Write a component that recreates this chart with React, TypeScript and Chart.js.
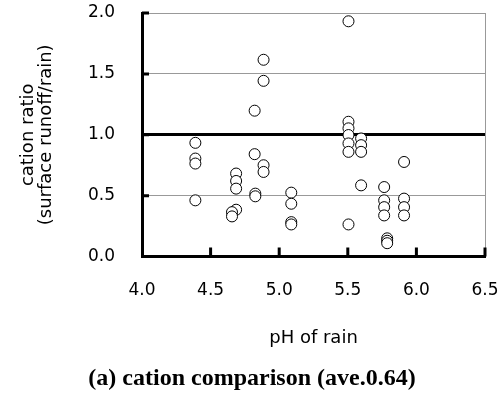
import React, { useEffect, useRef } from "react";
import { Chart, registerables } from "chart.js";

Chart.register(...registerables);

const phValues: number[] = [
  4.389, 4.389, 4.389, 4.389,
  4.686, 4.686, 4.686, 4.686, 4.656, 4.656,
  4.821, 4.821, 4.826, 4.826,
  4.886, 4.886, 4.886, 4.886,
  5.088, 5.088, 5.088, 5.088,
  5.505, 5.505, 5.505, 5.505, 5.505, 5.505, 5.505,
  5.597, 5.597, 5.597, 5.597,
  5.765, 5.765, 5.765, 5.765,
  5.787, 5.787, 5.787,
  5.91, 5.91, 5.91, 5.91,
];
const ratioValues: number[] = [
  0.934, 0.805, 0.764, 0.462,
  0.682, 0.621, 0.558, 0.385, 0.365, 0.33,
  1.198, 0.841, 0.517, 0.495,
  1.616, 1.443, 0.75, 0.695,
  0.525, 0.434, 0.283, 0.264,
  1.932, 1.107, 1.053, 0.998, 0.929, 0.86, 0.264,
  0.97, 0.915, 0.86, 0.585,
  0.571, 0.462, 0.406, 0.338,
  0.15, 0.13, 0.11,
  0.777, 0.476, 0.406, 0.338,
];

const xTitle = "pH of rain";
const yTitle = ["cation ratio", "(surface runoff/rain)"];
const caption = "(a) cation comparison (ave.0.64)";

const inwardTicks = {
  id: "inwardTicks",
  afterDraw(chart: any) {
    const { ctx, chartArea, scales } = chart;
    ctx.save();
    ctx.strokeStyle = "#000";
    ctx.lineWidth = 3;
    ctx.beginPath();
    for (const t of scales.y.ticks) {
      if (t.value === 0) continue;
      const py = scales.y.getPixelForValue(t.value);
      ctx.moveTo(chartArea.left, py);
      ctx.lineTo(chartArea.left + 7, py);
    }
    for (const t of scales.x.ticks) {
      if (t.value === 4) continue;
      const px = scales.x.getPixelForValue(t.value);
      ctx.moveTo(px, chartArea.bottom);
      ctx.lineTo(px, chartArea.bottom - 9);
    }
    ctx.stroke();
    ctx.restore();
  },
};

export default function App() {
  const ref = useRef<HTMLCanvasElement | null>(null);
  useEffect(() => {
    if (!ref.current) return;
    const points = phValues.map((x, i) => ({ x, y: ratioValues[i] }));
    const chart = new Chart(ref.current, {
      type: "scatter",
      data: {
        datasets: [
          {
            data: points,
            backgroundColor: "#fff",
            borderColor: "#000",
            borderWidth: 1,
            pointRadius: 5.5,
            pointStyle: "circle",
          },
        ],
      },
      plugins: [inwardTicks],
      options: {
        animation: false,
        responsive: false,
        maintainAspectRatio: false,
        layout: { padding: { top: 13, right: 0, left: 0, bottom: 0 } },
        plugins: {
          legend: { display: false },
          tooltip: { enabled: false },
          title: {
            display: true,
            position: "bottom",
            text: caption,
            color: "#000",
            font: { family: "'Liberation Serif'", size: 24, weight: "bold", lineHeight: 1.1 },
            padding: { top: 0, bottom: 2 },
          },
        },
        scales: {
          x: {
            type: "linear",
            min: 4,
            max: 6.5,
            ticks: {
              stepSize: 0.5,
              color: "#000",
              padding: 24,
              font: { family: "'DejaVu Sans'", size: 17 },
              callback: (v: any) => Number(v).toFixed(1),
            },
            grid: {
              drawTicks: false,
              color: (c: any) => (c.tick && c.tick.value === 6.5 ? "#999" : "rgba(0,0,0,0)"),
              lineWidth: 1,
            },
            border: { display: true, color: "#000", width: 3 },
            title: {
              display: true,
              text: xTitle,
              color: "#000",
              font: { family: "'DejaVu Sans'", size: 18, lineHeight: 1.2 },
              padding: { top: 0, bottom: 16 },
            },
            afterFit: (s: any) => {
              s.height = 109;
              s.paddingLeft = 0;
              s.paddingRight = 19;
            },
          },
          y: {
            type: "linear",
            min: 0,
            max: 2,
            ticks: {
              stepSize: 0.5,
              color: "#000",
              padding: 27,
              font: { family: "'DejaVu Sans'", size: 17 },
              callback: (v: any) => Number(v).toFixed(1),
            },
            grid: {
              drawTicks: false,
              color: (c: any) => {
                const v = c.tick ? c.tick.value : -1;
                if (v === 0) return "rgba(0,0,0,0)";
                if (v === 1) return "#000";
                return "#999";
              },
              lineWidth: (c: any) => (c.tick && c.tick.value === 1 ? 3 : 1),
            },
            border: { display: true, color: "#000", width: 3 },
            title: {
              display: true,
              text: yTitle,
              color: "#000",
              font: { family: "'DejaVu Sans'", size: 18, lineHeight: 1.0 },
              padding: { top: 19, bottom: 0 },
            },
            afterFit: (s: any) => {
              s.width = 142;
              s.paddingTop = 0;
              s.paddingBottom = 0;
            },
          },
        },
      },
    });
    return () => chart.destroy();
  }, []);
  return (
    <div style={{ position: "absolute", left: 0, top: 0, width: 504, height: 394, background: "#fff" }}>
      <canvas ref={ref} width={504} height={394} style={{ width: 504, height: 394 }} />
    </div>
  );
}
